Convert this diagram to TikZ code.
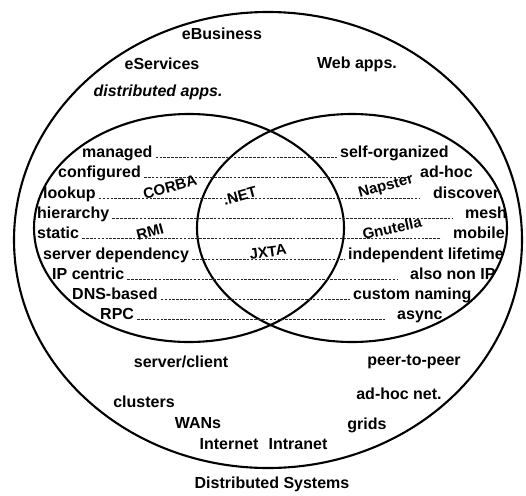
\documentclass[tikz,border=0pt]{standalone}
\usepackage{fontspec}
\setmainfont{Liberation Sans}
\begin{document}
\begin{tikzpicture}[x=1pt,y=-1pt,
  lbl/.style={font=\fontsize{16}{18}\selectfont\bfseries, inner xsep=3pt, inner ysep=0pt},
  tag/.style={font=\fontsize{15}{17}\selectfont\bfseries, inner sep=0pt},
  leader/.style={line width=0.9pt, dash pattern=on 2.6pt off 1.3pt, black!85},
  ring/.style={line width=2.1pt}]
\useasboundingbox (0,0) rectangle (526,495);
% circles
\draw[ring] (268,240) ellipse [x radius=254, y radius=228];
\draw[ring] (189,228) ellipse [x radius=155, y radius=114];
\draw[ring] (352,228) ellipse [x radius=155, y radius=114];
% outer texts
\node[lbl] (ebus) at (222,34) {eBusiness};
\node[lbl] (eserv) at (162,64) {eServices};
\node[lbl] (webapps) at (357,64) {Web apps.};
\node[lbl, font=\fontsize{16}{18}\selectfont\bfseries\itshape] (distapps) at (158,92) {distributed apps.};
\node[lbl] (clusters) at (144,402) {clusters};
\node[lbl] (wans) at (198,423) {WANs};
\node[lbl] (internet) at (229,444) {Internet};
\node[lbl] (intranet) at (298,444) {Intranet};
\node[lbl] (adhocnet) at (399,394) {ad-hoc net.};
\node[lbl] (grids) at (367,425) {grids};
\node[lbl] (ds) at (272,484) {Distributed Systems};
\node[lbl] (sc) at (181,362) {server/client};
\node[lbl] (pp) at (414,362) {peer-to-peer};
% left labels
\node[lbl, anchor=base west] (l1) at (79,157) {managed};
\node[lbl, anchor=base west] (l2) at (55,177) {configured};
\node[lbl, anchor=base west] (l3) at (40,198) {lookup};
\node[lbl, anchor=base west] (l4) at (34,218) {hierarchy};
\node[lbl, anchor=base west] (l5) at (34,238) {static};
\node[lbl, anchor=base west] (l6) at (40,259) {server dependency};
\node[lbl, anchor=base west] (l7) at (49,279) {IP centric};
\node[lbl, anchor=base west] (l8) at (69,299) {DNS-based};
\node[lbl, anchor=base west] (l9) at (97,319) {RPC};
% right labels
\node[lbl, anchor=base west] (r1) at (337,157) {self-organized};
\node[lbl, anchor=base west] (r2) at (417,177) {ad-hoc};
\node[lbl, anchor=base west] (r3) at (430,198) {discover};
\node[lbl, anchor=base west] (r4) at (462,218) {mesh};
\node[lbl, anchor=base west] (r5) at (450,238) {mobile};
\node[lbl, anchor=base west] (r6) at (345,259) {independent lifetime};
\node[lbl, anchor=base west] (r7) at (407,279) {also non IP};
\node[lbl, anchor=base west] (r8) at (350,299) {custom naming};
\node[lbl, anchor=base west] (r9) at (394,319) {async};
% leaders
\draw[leader] (l1.base east) -- (r1.base west);
\draw[leader, shorten >=8pt] (l2.base east) -- (r2.base west);
\draw[leader, shorten >=10pt] (l3.base east) -- (r3.base west);
\draw[leader, shorten >=9pt] (l4.base east) -- (r4.base west);
\draw[leader, shorten >=9pt] (l5.base east) -- (r5.base west);
\draw[leader] (l6.base east) -- (r6.base west);
\draw[leader, shorten >=9pt] (l7.base east) -- (r7.base west);
\draw[leader] (l8.base east) -- (r8.base west);
\draw[leader, shorten >=8pt] (l9.base east) -- (r9.base west);
% technology tags
\node[tag, rotate=15] (corba) at (170,187) {CORBA};
\node[tag, rotate=15] (net) at (240,196) {.NET};
\node[tag, rotate=15] (napster) at (386,187) {Napster};
\node[tag, rotate=15] (rmi) at (150,232) {RMI};
\node[tag, rotate=12] (gnutella) at (392,228) {Gnutella};
\node[tag, rotate=8] (jxta) at (268,252) {JXTA};
\end{tikzpicture}
\end{document}
